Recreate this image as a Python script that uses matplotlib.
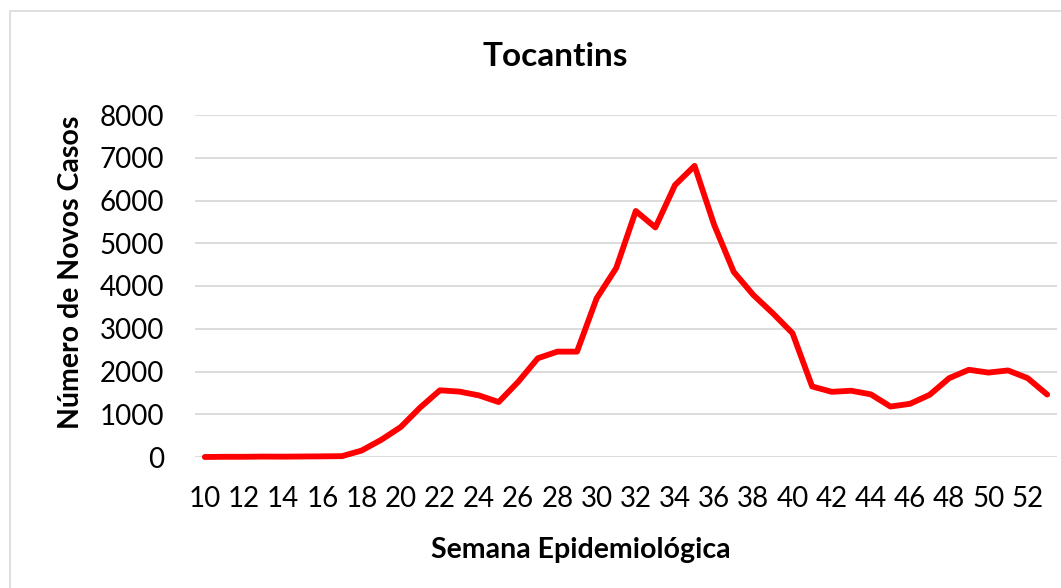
import matplotlib
matplotlib.use("Agg")
import matplotlib.pyplot as plt
from matplotlib.patches import Rectangle

weeks = list(range(10, 54))
cases = [0, 5, 5, 10, 8, 12, 15, 20, 150, 400, 700, 1160, 1560, 1530, 1440, 1285,
         1760, 2310, 2465, 2465, 3710, 4420, 5755, 5370, 6360, 6810, 5430, 4330,
         3790, 3360, 2895, 1650, 1525, 1550, 1465, 1180, 1245, 1455, 1845, 2040,
         1975, 2025, 1845, 1460]
xtick_labels = list(range(10, 53, 2))
yticks = list(range(0, 8001, 1000))

plt.rcParams['font.family'] = ['Lato', 'DejaVu Sans']

fig = plt.figure(figsize=(10.61, 5.88), dpi=100)
ax = fig.add_axes([195/1061, (588-457)/588, 862/1061, (457-115)/588])

ax.plot(weeks, cases, color='#ff0000', linewidth=4.2, solid_joinstyle='round',
        solid_capstyle='round', clip_on=False, zorder=3)
ax.set_xlim(9.5, 53.5)
ax.set_ylim(0, 8000)
ax.set_yticks(yticks)
ax.set_xticks(xtick_labels)
ax.set_xticklabels([str(v) for v in xtick_labels])
ax.tick_params(axis='both', length=0, labelsize=20, colors='black')
ax.tick_params(axis='y', pad=22)
ax.tick_params(axis='x', pad=21)
ax.grid(axis='y', color='#d9d9d9', linewidth=1.3)
ax.set_axisbelow(True)
for s in ax.spines.values():
    s.set_visible(False)

fig.text(555/1061, 1 - 56/588, 'Tocantins', ha='center', va='center',
         fontsize=24, fontweight='bold')
fig.text(581/1061, 1 - 550/588, 'Semana Epidemiológica', ha='center', va='center',
         fontsize=20.5, fontweight='bold')
fig.text(71/1061, 1 - 272/588, 'Número de Novos Casos', ha='center', va='center',
         rotation=90, fontsize=20.5, fontweight='bold')

fig.patches.append(Rectangle((10/1061, -0.05), 1.1, 1 - 11/588 + 0.05,
                             transform=fig.transFigure, fill=False,
                             edgecolor='#d9d9d9', linewidth=1.2))

fig.savefig('out.png', dpi=100)
